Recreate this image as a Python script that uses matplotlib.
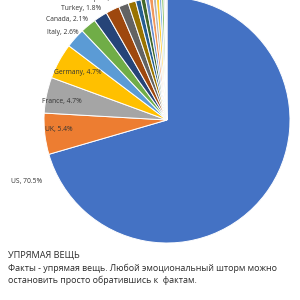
import matplotlib
matplotlib.use("Agg")
import matplotlib.pyplot as plt

# share of total, clockwise from 12 o'clock
countries = ["US", "UK", "France", "Germany", "Italy", "Canada", "Turkey", "Spain",
             "c9", "c10", "c11", "c12", "c13", "c14", "c15", "c16", "c17", "c18", "c19", "c20"]
shares = [70.5, 5.4, 4.7, 4.7, 2.6, 2.1, 1.8, 1.8,
          1.3, 1.0, 0.7, 0.6, 0.5, 0.5, 0.4, 0.4, 0.3, 0.3, 0.2, 0.2]
colors = ["#4472C4", "#ED7D31", "#A5A5A5", "#FFC000", "#5B9BD5", "#70AD47", "#264478", "#9E480E",
          "#636363", "#997300", "#255E91", "#43682B", "#698ED0", "#F1975A", "#B7B7B7", "#FFCD33",
          "#7CAFDD", "#8CC168", "#D9D9D9", "#EDEDED"]
labelled = ["US", "UK", "France", "Germany", "Italy", "Canada", "Turkey", "Spain"]
# where Excel put each data label (image pixels)
label_xy = [(27, 182), (59, 130), (62, 102), (78, 73), (63, 32), (67, 20), (81, 9), (108, -1)]

title = "УПРЯМАЯ ВЕЩЬ"
body = ["Факты - упрямая вещь. Любой эмоциональный шторм можно",
        "остановить просто обратившись к  фактам."]

fig = plt.figure(figsize=(3, 3), dpi=100)
ax = fig.add_axes([0, 0, 1, 1])

ax.pie(shares, colors=colors, startangle=-90, counterclock=True,
       center=(167, 120), radius=123,
       wedgeprops=dict(edgecolor="white", linewidth=0.7))

for name, (x, y) in zip(labelled, label_xy):
    v = shares[countries.index(name)]
    ax.text(x, y, f"{name}, {v}%", fontsize=4.9, color="#333333",
            ha="center", va="center", family="Open Sans")

ax.text(8, 255, title, fontsize=6.6, color="#2b2b2b", va="center", family="Open Sans")
for i, line in enumerate(body):
    ax.text(8, 268 + i * 12.5, line, fontsize=6.4, color="#2b2b2b", va="center", family="Open Sans")

ax.set_xlim(0, 300)
ax.set_ylim(300, 0)
ax.set_aspect("equal")
ax.axis("off")

fig.savefig("out.png", dpi=100)
